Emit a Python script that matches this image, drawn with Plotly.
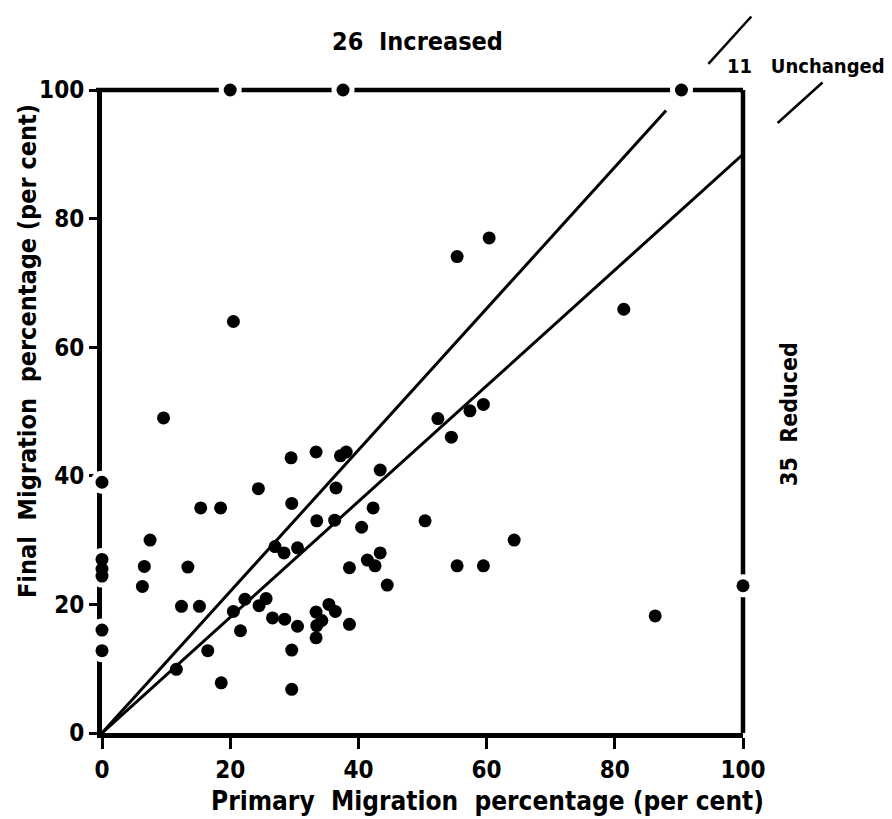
import plotly.graph_objects as go

# ---------------- data ----------------
primary = [
    20, 37.6, 90.4, 0, 0, 0, 0, 0, 0, 20.5, 9.6, 7.5, 6.6, 6.3, 13.4, 15.4, 18.5,
    12.4, 15.2, 24.4, 29.5, 33.4, 29.6, 55.4, 60.4, 38.1, 37.2,
    36.5, 27, 28.4, 30.5, 22.3, 20.5, 43.4, 52.4, 33.5, 36.3, 57.4,
    42.3, 40.5, 50.4, 38.6, 41.4, 42.6, 43.4, 55.4, 44.5, 25.6, 24.5, 26.6, 28.5,
    30.5, 33.4, 34.3, 33.5, 35.4, 36.4, 33.4, 38.6, 29.6, 29.6, 21.6, 16.5, 11.6,
    18.6, 54.5, 59.5, 64.3, 59.5, 81.4, 86.3, 100,
]
final = [
    100, 100, 100, 39, 27, 25.5, 24.4, 16, 12.8, 64, 49, 30, 25.9, 22.8, 25.8, 35, 35,
    19.7, 19.7, 38, 42.8, 43.7, 35.7, 74.1, 77, 43.7, 43.1,
    38.1, 29, 28, 28.8, 20.8, 18.9, 40.9, 48.9, 33, 33.1, 50.1,
    35, 32, 33, 25.7, 26.9, 26, 28, 26, 23, 20.9, 19.8, 17.9, 17.7,
    16.6, 18.8, 17.5, 16.7, 20, 18.9, 14.8, 16.9, 12.9, 6.8, 15.9, 12.8, 9.9,
    7.8, 46, 51.1, 30, 26, 65.9, 18.2, 22.9,
]
tick_values = [0, 20, 40, 60, 80, 100]
upper_slope = 1.1     # +10 % line
lower_slope = 0.9     # -10 % line
upper_line_end_x = 88
lower_line_end_x = 100
n_increased = 26
n_unchanged = 11
n_reduced = 35

# ---------------- styling ----------------
FONT = "DejaVu Sans Condensed, Liberation Sans Narrow, DejaVu Sans, sans-serif"
BLACK = "black"
L, R, T, B = 102, 149, 90, 86
W, H = 892, 819
PW, PH = W - L - R, H - T - B


def px(xp):
    return (xp - L) / PW


def py(yp):
    return (H - B - yp) / PH


fig = go.Figure()

# diagonal +/-10 % lines
fig.add_trace(go.Scatter(
    x=[0, upper_line_end_x], y=[0, upper_slope * upper_line_end_x],
    mode="lines", line=dict(color=BLACK, width=3), hoverinfo="skip"))
fig.add_trace(go.Scatter(
    x=[0, lower_line_end_x], y=[0, lower_slope * lower_line_end_x],
    mode="lines", line=dict(color=BLACK, width=3), hoverinfo="skip"))

# white halos for the points sitting on the frame (gaps in the border)
edge_x = [a for a, b in zip(primary, final) if a in (0, 100) or b == 100]
edge_y = [b for a, b in zip(primary, final) if a in (0, 100) or b == 100]
fig.add_trace(go.Scatter(
    x=edge_x, y=edge_y, mode="markers", cliponaxis=False,
    marker=dict(size=23, color="white", line=dict(width=0)), hoverinfo="skip"))

# all data points
fig.add_trace(go.Scatter(
    x=primary, y=final, mode="markers", cliponaxis=False,
    marker=dict(size=13, color=BLACK, line=dict(width=0))))

# frame: top and right borders (paper refs so they are not clipped)
shapes = [
    dict(type="line", xref="paper", yref="paper", x0=px(96), y0=1, x1=1, y1=1,
         line=dict(color=BLACK, width=4.5), layer="below"),
    dict(type="line", xref="paper", yref="paper", x0=1, y0=0, x1=1, y1=1,
         line=dict(color=BLACK, width=4.5), layer="below"),
]
# slash marks continuing the band outside the frame
for x0, x1, s in [(94.6, 101.3, upper_slope), (105.4, 112.4, lower_slope)]:
    shapes.append(dict(type="line", xref="paper", yref="paper",
                       x0=x0 / 100, y0=s * x0 / 100, x1=x1 / 100, y1=s * x1 / 100,
                       line=dict(color=BLACK, width=2.5)))

annotations = [
    dict(text=f"{n_increased}  Increased", x=px(417), y=py(42), xref="paper", yref="paper",
         showarrow=False, xanchor="center", yanchor="middle",
         font=dict(family=FONT, size=25, color=BLACK, weight="bold")),
    dict(text=f"{n_unchanged}   Unchanged", x=px(725), y=py(66), xref="paper", yref="paper",
         showarrow=False, xanchor="left", yanchor="middle",
         font=dict(family=FONT, size=20, color=BLACK, weight="bold")),
    dict(text=f"{n_reduced}  Reduced", x=px(789), y=py(414), xref="paper", yref="paper",
         showarrow=False, xanchor="center", yanchor="middle", textangle=-90,
         font=dict(family=FONT, size=23, color=BLACK, weight="bold")),
    dict(text="Primary  Migration  percentage (per cent)", x=px(488), y=py(801),
         xref="paper", yref="paper", showarrow=False, xanchor="center", yanchor="middle",
         font=dict(family=FONT, size=26, color=BLACK, weight="bold")),
    dict(text="Final  Migration  percentage (per cent)", x=px(27), y=py(351),
         xref="paper", yref="paper", showarrow=False, xanchor="center", yanchor="middle",
         textangle=-90,
         font=dict(family=FONT, size=25, color=BLACK, weight="bold")),
]

fig.update_layout(
    width=W, height=H,
    margin=dict(l=L, r=R, t=T, b=B),
    paper_bgcolor="white", plot_bgcolor="white",
    showlegend=False,
    shapes=shapes,
    annotations=annotations,
    xaxis=dict(range=[0, 100], tickvals=tick_values, showgrid=False, zeroline=False,
               showline=True, linecolor=BLACK, linewidth=5, layer="below traces",
               ticks="outside", ticklen=11, tickwidth=3, tickcolor=BLACK,
               tickfont=dict(family=FONT, size=24, color=BLACK, weight="bold"),
               fixedrange=True),
    yaxis=dict(range=[0, 100], tickvals=tick_values, showgrid=False, zeroline=False,
               showline=True, linecolor=BLACK, linewidth=5, layer="below traces",
               ticks="outside", ticklen=8, tickwidth=2.5, tickcolor=BLACK,
               tickfont=dict(family=FONT, size=24, color=BLACK, weight="bold"),
               fixedrange=True),
)

fig.write_html("out.html")
